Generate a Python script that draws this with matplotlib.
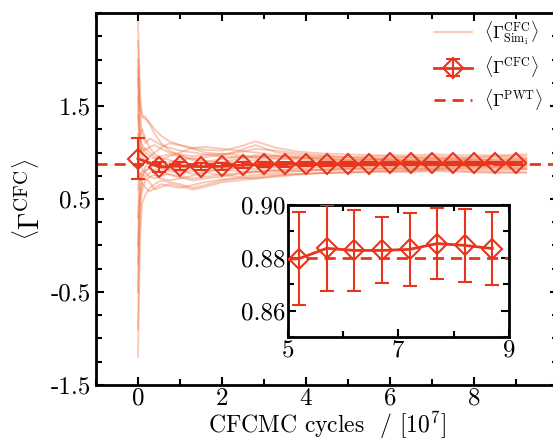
import matplotlib
matplotlib.use('Agg')
import matplotlib.pyplot as plt
from matplotlib.ticker import MultipleLocator

plt.rcParams['font.family'] = 'cmr10'
plt.rcParams['mathtext.fontset'] = 'cm'
plt.rcParams['axes.unicode_minus'] = False
plt.rcParams['axes.formatter.use_mathtext'] = True

# colours
sim_color = '#ee7040'
mean_color = '#e8351e'

# cycle grid for the single simulations (in 10^7 cycles)
sim_t = [0, 0.02, 0.05, 0.1, 0.18, 0.28, 0.4, 0.55, 0.75, 1.0, 1.3, 1.6, 2.0,
         2.4, 2.8, 3.3, 3.8, 4.4, 5.0, 5.7, 6.4, 7.1, 7.8, 8.5, 9.25]

# running averages of the individual simulations
sim_runs = [
    [2.40, 2.10, 1.60, 1.40, 1.38, 1.30, 1.20, 1.10, 1.02, 0.97, 0.93, 0.95, 0.97, 1.02, 1.08, 1.00, 0.97, 0.96, 0.95, 0.96, 0.95, 0.96, 0.95, 0.96, 0.96],
    [-1.20, -0.70, 0.10, 0.45, 0.55, 0.62, 0.66, 0.70, 0.68, 0.66, 0.62, 0.65, 0.70, 0.72, 0.74, 0.76, 0.77, 0.78, 0.79, 0.80, 0.80, 0.81, 0.80, 0.79, 0.79],
    [1.90, 1.60, 1.40, 1.20, 1.10, 1.15, 1.12, 1.08, 1.05, 1.02, 1.00, 0.98, 0.96, 0.95, 0.94, 0.93, 0.94, 0.95, 0.94, 0.93, 0.93, 0.94, 0.93, 0.92, 0.93],
    [-0.50, 0.20, 0.50, 0.70, 0.72, 0.68, 0.60, 0.63, 0.66, 0.64, 0.60, 0.63, 0.68, 0.70, 0.72, 0.74, 0.76, 0.78, 0.79, 0.80, 0.81, 0.82, 0.82, 0.81, 0.82],
    [1.40, 1.30, 1.10, 0.95, 0.90, 0.96, 1.00, 1.05, 1.10, 1.08, 1.04, 1.00, 0.98, 1.00, 1.04, 1.02, 0.99, 0.97, 0.95, 0.94, 0.95, 0.94, 0.94, 0.95, 0.94],
    [0.30, 0.55, 0.75, 0.80, 0.78, 0.74, 0.72, 0.75, 0.77, 0.74, 0.72, 0.74, 0.76, 0.78, 0.80, 0.81, 0.80, 0.82, 0.83, 0.83, 0.84, 0.84, 0.85, 0.85, 0.84],
    [1.00, 0.90, 0.85, 0.88, 0.92, 0.90, 0.88, 0.86, 0.90, 0.92, 0.94, 0.91, 0.89, 0.90, 0.92, 0.90, 0.89, 0.88, 0.89, 0.90, 0.89, 0.88, 0.89, 0.89, 0.88],
    [2.00, 1.80, 1.20, 1.00, 1.05, 1.00, 0.95, 0.92, 0.96, 1.00, 1.05, 1.06, 1.04, 1.02, 1.00, 0.97, 0.95, 0.94, 0.92, 0.92, 0.91, 0.92, 0.91, 0.90, 0.91],
    [-0.90, -0.20, 0.35, 0.60, 0.70, 0.74, 0.76, 0.72, 0.70, 0.72, 0.75, 0.78, 0.76, 0.74, 0.76, 0.78, 0.80, 0.81, 0.82, 0.83, 0.82, 0.83, 0.84, 0.84, 0.83],
    [0.80, 0.95, 1.20, 1.25, 1.15, 1.05, 0.98, 0.94, 0.92, 0.88, 0.86, 0.88, 0.90, 0.93, 0.96, 0.94, 0.92, 0.91, 0.90, 0.90, 0.91, 0.90, 0.90, 0.90, 0.90],
    [1.60, 1.20, 0.90, 0.82, 0.80, 0.84, 0.86, 0.83, 0.80, 0.78, 0.80, 0.82, 0.84, 0.83, 0.82, 0.84, 0.85, 0.86, 0.85, 0.86, 0.86, 0.87, 0.86, 0.87, 0.86],
    [0.00, 0.40, 0.65, 0.75, 0.85, 0.90, 0.88, 0.84, 0.82, 0.80, 0.77, 0.79, 0.82, 0.84, 0.86, 0.85, 0.86, 0.87, 0.87, 0.86, 0.87, 0.87, 0.88, 0.87, 0.87],
    [2.20, 1.90, 1.50, 1.38, 1.36, 1.32, 1.25, 1.18, 1.12, 1.08, 1.05, 1.03, 1.02, 1.06, 1.12, 1.05, 1.01, 0.99, 0.98, 0.97, 0.97, 0.98, 0.97, 0.97, 0.98],
    [-0.20, 0.10, 0.55, 0.68, 0.62, 0.58, 0.62, 0.66, 0.64, 0.62, 0.65, 0.68, 0.71, 0.73, 0.72, 0.75, 0.77, 0.78, 0.78, 0.79, 0.79, 0.80, 0.79, 0.78, 0.78],
    [1.20, 1.10, 1.00, 1.05, 1.00, 0.96, 0.93, 0.96, 0.98, 0.96, 0.92, 0.90, 0.93, 0.95, 0.97, 0.96, 0.94, 0.92, 0.91, 0.92, 0.91, 0.91, 0.92, 0.91, 0.91],
    [0.60, 0.70, 0.78, 0.76, 0.74, 0.78, 0.82, 0.80, 0.76, 0.73, 0.70, 0.72, 0.74, 0.77, 0.79, 0.80, 0.82, 0.81, 0.82, 0.82, 0.83, 0.82, 0.83, 0.83, 0.82],
    [1.80, 1.40, 1.15, 1.08, 1.02, 1.06, 1.08, 1.04, 1.00, 0.98, 0.96, 0.97, 0.99, 0.97, 0.95, 0.96, 0.95, 0.93, 0.92, 0.93, 0.92, 0.93, 0.92, 0.93, 0.93],
    [0.90, 0.80, 0.70, 0.74, 0.80, 0.84, 0.80, 0.78, 0.82, 0.84, 0.82, 0.80, 0.82, 0.80, 0.79, 0.81, 0.83, 0.84, 0.84, 0.85, 0.85, 0.85, 0.86, 0.85, 0.86],
]

# averaged over all simulations
mean_x = [0, 0.5, 1.0, 1.5, 2.0, 2.5, 3.0, 3.5, 4.0, 4.5, 5.0, 5.5, 6.0, 6.5, 7.0, 7.5, 8.0, 8.5, 9.0]
mean_y = [0.935, 0.845, 0.855, 0.848, 0.852, 0.866, 0.872, 0.874, 0.878, 0.879,
          0.880, 0.881, 0.882, 0.882, 0.883, 0.884, 0.884, 0.885, 0.884]
mean_err = [0.22, 0.05, 0.045, 0.04, 0.035, 0.03, 0.03, 0.025, 0.025, 0.02,
            0.02, 0.018, 0.016, 0.015, 0.015, 0.014, 0.014, 0.014, 0.014]

# reference value
pwt = 0.88

# inset (zoom of the last part)
inset_x = [4.7, 5.2, 5.7, 6.2, 6.7, 7.2, 7.7, 8.2, 8.7]
inset_y = [0.879, 0.8797, 0.8836, 0.8828, 0.8828, 0.8832, 0.8854, 0.8847, 0.8835]
inset_err = [0.016, 0.0177, 0.0163, 0.0152, 0.0125, 0.0138, 0.0134, 0.0139, 0.0139]

lab_sim = r'$\langle\Gamma^{\rm CFC}_{{\rm Sim}_{\rm i}}\rangle$'
lab_cfc = r'$\langle\Gamma^{\rm CFC}\rangle$'
lab_pwt = r'$\langle\Gamma^{\rm PWT}\rangle$'

fig = plt.figure(figsize=(5.53, 4.41), dpi=100)
ax = fig.add_axes([0.1736, 0.127, 0.835, 0.8435])

for i, run in enumerate(sim_runs):
    ax.plot(sim_t, run, color=sim_color, alpha=0.38, lw=1.3, zorder=1,
            label=lab_sim if i == 0 else None)

ax.axhline(pwt, color=mean_color, ls='--', lw=2, dashes=(4, 2.5), zorder=2, label=lab_pwt)
ax.errorbar(mean_x, mean_y, yerr=mean_err, color=mean_color, lw=2, marker='D',
            ms=10, mfc='none', mew=1.5, capsize=5, capthick=1.5, elinewidth=1.5,
            zorder=3, label=lab_cfc)

ax.set_xlim(-1, 10)
ax.set_ylim(-1.5, 2.5)
ax.set_xticks([0, 2, 4, 6, 8])
ax.xaxis.set_minor_locator(MultipleLocator(1))
ax.set_yticks([-1.5, -0.5, 0.5, 1.5])
ax.set_yticklabels(['-1.5', '-0.5', '0.5', '1.5'])
ax.yaxis.set_minor_locator(MultipleLocator(0.25))
ax.tick_params(which='both', direction='in', top=True, right=True, labelsize=18, width=1.5)
ax.tick_params(axis='x', pad=2)
ax.tick_params(which='major', length=6)
ax.tick_params(which='minor', length=4.5)
for s in ax.spines.values():
    s.set_linewidth(2)
ax.set_xlabel(r'CFCMC cycles  / $[10^7]$', fontsize=17, labelpad=0)
ax.set_ylabel(r'$\left\langle\Gamma^{\rm CFC}\right\rangle$', fontsize=20, labelpad=4)

handles, labels = ax.get_legend_handles_labels()
order = [labels.index(l) for l in [lab_sim, lab_cfc, lab_pwt]]
ax.legend([handles[k] for k in order], [labels[k] for k in order],
          loc='upper left', bbox_to_anchor=(0.762, 0.985),
          bbox_transform=fig.transFigure, frameon=False, fontsize=12.5,
          handlelength=2.2, handletextpad=0.7, labelspacing=0.45, borderpad=0.2)

# inset
axi = fig.add_axes([0.5208, 0.2358, 0.3996, 0.2993])
axi.axhline(pwt, color=mean_color, ls='--', lw=2, dashes=(4, 2.5), zorder=2)
axi.errorbar(inset_x, inset_y, yerr=inset_err, color=mean_color, lw=2, marker='D',
             ms=10, mfc='none', mew=1.5, capsize=5, capthick=1.5, elinewidth=1.5, zorder=3)
axi.set_xlim(5, 9)
axi.set_ylim(0.85, 0.90)
axi.set_xticks([5, 7, 9])
axi.xaxis.set_minor_locator(MultipleLocator(1))
axi.set_yticks([0.86, 0.88, 0.90])
axi.set_yticklabels(['0.86', '0.88', '0.90'])
axi.yaxis.set_minor_locator(MultipleLocator(0.01))
axi.tick_params(which='both', direction='in', top=True, right=True, labelsize=18, width=1.5, pad=2)
axi.tick_params(which='major', length=6)
axi.tick_params(which='minor', length=4.5)
for s in axi.spines.values():
    s.set_linewidth(2)

fig.savefig('out.png', dpi=100)
